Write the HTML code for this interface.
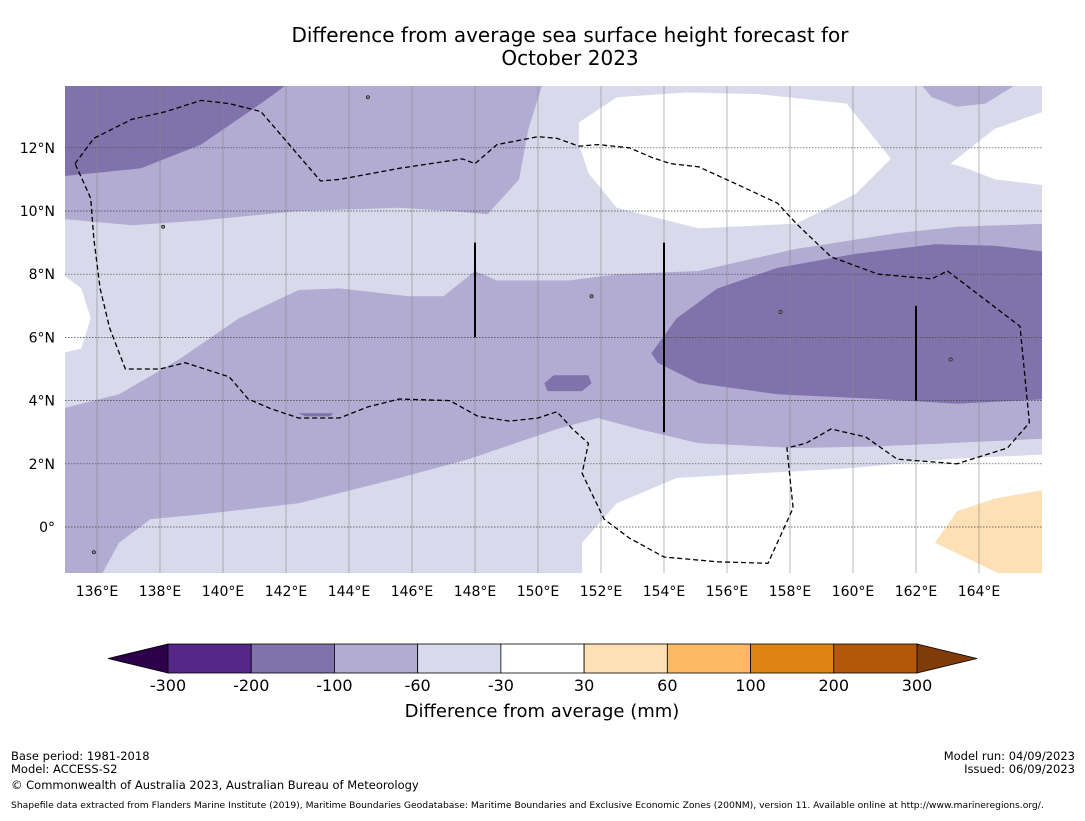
<!DOCTYPE html>
<html><head><meta charset="utf-8"><style>
body{margin:0;background:#fff;font-family:"Liberation Sans","DejaVu Sans",sans-serif}
svg text{font-family:"DejaVu Sans","Liberation Sans",sans-serif}
</style></head><body>
<svg id="c" width="1085" height="816" xmlns="http://www.w3.org/2000/svg">
<text x="570" y="42" text-anchor="middle" font-size="20">Difference from average sea surface height forecast for</text>
<text x="570" y="65" text-anchor="middle" font-size="20">October 2023</text>
<defs><clipPath id="mc"><rect x="65" y="86" width="977" height="487"/></clipPath></defs>
<g id="map" clip-path="url(#mc)"></g>
<g id="grid" clip-path="url(#mc)"></g>
<g id="axes"></g>
<g id="cbar"></g>
<text x="542" y="717" text-anchor="middle" font-size="18">Difference from average (mm)</text>
<g font-size="11.5">
<text x="11" y="760">Base period: 1981-2018</text>
<text x="11" y="773">Model: ACCESS-S2</text>
<text x="11" y="789">© Commonwealth of Australia 2023, Australian Bureau of Meteorology</text>
<text x="1075" y="760" text-anchor="end">Model run: 04/09/2023</text>
<text x="1075" y="773" text-anchor="end">Issued: 06/09/2023</text>
<text x="11" y="808" font-size="9.2">Shapefile data extracted from Flanders Marine Institute (2019), Maritime Boundaries Geodatabase: Maritime Boundaries and Exclusive Economic Zones (200NM), version 11. Available online at http://www.marineregions.org/.</text>
</g>
</svg>
<script>
const lonTicks=[136,138,140,142,144,146,148,150,152,154,156,158,160,162,164];
const latTicks=[0,2,4,6,8,10,12];
const levels=["-300","-200","-100","-60","-30","30","60","100","200","300"];
const levelColors=["#542788","#8073ac","#b2abd2","#d8daeb","#ffffff","#fee0b6","#fdb863","#e08214","#b35806"];
const endColors=["#2d004b","#7f3b08"];
const midTop=[[134.9,14.2],[150.2,14.2],[149.7,12.6],[149.4,11],[148.4,9.9],[147.2,10],[145.6,10.1],[142.4,10],[139.3,9.7],[137.1,9.55],[134.9,9.75]];
const midTopRight=[[162,14.2],[165.5,14.2],[164.2,13.4],[163.3,13.3],[162.5,13.6]];
const midBand=[[134.9,3.75],[136.7,4.2],[138.6,5.3],[140.5,6.6],[142.4,7.5],[143.7,7.55],[145.9,7.3],[147,7.3],[148,8.1],[148.7,7.8],[151,7.8],[152.5,8],[155.1,8.1],[158.2,8.8],[161.4,9.3],[163.3,9.5],[166.2,9.6],[166.2,2.8],[163,2.65],[160.8,2.55],[158.2,2.5],[155.1,2.65],[153.2,3.1],[151.9,3.45],[150.6,3.1],[147.8,2.15],[145.6,1.55],[142.4,0.75],[139.3,0.4],[137.7,0.25],[136.7,-0.5],[136.1,-1.6],[134.9,-1.6]];
const darkRight=[[153.6,5.5],[154.4,6.6],[155.7,7.55],[157.6,8.2],[160.1,8.65],[162.6,8.95],[164.5,8.9],[166.2,8.7],[166.2,4.05],[163.3,3.9],[160.8,4.05],[157.6,4.2],[155.1,4.55],[153.8,5.2]];
const darkSmall=[[150.2,4.55],[150.5,4.8],[151.6,4.8],[151.7,4.55],[151.4,4.3],[150.3,4.3]];
const darkTiny=[[142.4,3.6],[143.5,3.6],[143.4,3.5],[142.6,3.5]];
const darkTopLeft=[[134.9,14.2],[142.3,14.2],[141.2,13.4],[139.3,12.1],[137.4,11.35],[134.9,11.1]];
const whiteTop=[[151.3,12.8],[152.5,13.6],[154.7,13.75],[157,13.7],[159.8,13.4],[161.2,11.65],[160.1,10.55],[158.2,9.6],[155.1,9.45],[152.5,10.1],[151.6,11.2],[151.3,12.1]];
const whiteRight=[[163.1,11.5],[164.5,12.6],[166.2,13.2],[166.2,10.8],[164.5,11],[163.6,11.35]];
const whiteLeft=[[134.9,8],[135.5,7.55],[135.8,6.6],[135.5,5.65],[134.9,5.5]];
const whiteBottom=[[151.4,-0.5],[152.5,0.75],[154.4,1.55],[157,1.7],[159.8,1.85],[163,2.15],[166.2,2.3],[166.2,-1.6],[151.4,-1.6]];
const orange=[[162.6,-0.5],[163.3,0.5],[164.5,0.9],[166.2,1.2],[166.2,-1.6],[164.9,-1.6]];
const eez=[[135.3,11.5],[135.9,12.3],[137.1,12.9],[138.2,13.15],[139.3,13.5],[140.2,13.4],[141.2,13.15],[143.1,10.95],[143.7,11],[145.6,11.35],[147.6,11.65],[148,11.5],[148.7,12.1],[150,12.35],[150.6,12.3],[151.3,12.05],[151.9,12.1],[152.9,12],[153.6,11.7],[154.2,11.5],[155.1,11.4],[156.3,10.85],[157.6,10.25],[158.2,9.6],[159.3,8.55],[160.8,8],[162.5,7.85],[163,8.1],[165.3,6.35],[165.6,3.3],[164.9,2.5],[163.3,2],[161.4,2.15],[160.4,2.85],[159.3,3.1],[158.5,2.65],[157.9,2.5],[158.1,0.6],[157.3,-1.15],[155.7,-1.1],[154,-0.95],[152.9,-0.35],[152.1,0.25],[151.4,1.7],[151.6,2.65],[151.1,3.1],[150.6,3.65],[150,3.45],[149.1,3.35],[148.1,3.5],[147.2,4],[145.6,4.05],[144.6,3.8],[143.7,3.45],[142.4,3.45],[141.5,3.75],[140.8,4.05],[140.2,4.75],[138.8,5.2],[138,5],[136.9,5],[136.4,6.3],[136.1,7.55],[135.9,9.1],[135.8,10.4],[135.6,10.85],[135.3,11.5]];
const segments=[[148,9,148,6],[154,9,154,3],[162,7,162,4]];
const islands=[[144.6,13.6],[138.1,9.5],[157.7,6.8],[151.7,7.3],[163.1,5.3],[135.9,-0.8]];

const NS="http://www.w3.org/2000/svg";
const X=lon=>97+(lon-136)*31.5, Y=lat=>527-lat*31.6;
function mk(tag,parent,attrs){const e=document.createElementNS(NS,tag);for(const k in attrs)e.setAttribute(k,attrs[k]);parent.appendChild(e);return e;}
const pts=a=>a.map(p=>X(p[0]).toFixed(1)+","+Y(p[1]).toFixed(1)).join(" ");
const map=document.getElementById('map');
let bg=mk('rect',map,{x:65,y:86,width:977,height:487,fill:levelColors[3]});


const regs=[[midTop,2,'mid-negative-north'],[midTopRight,2,'mid-negative-northeast'],[midBand,2,'mid-negative-band'],[darkRight,1,'strong-negative-east'],[darkSmall,1,'strong-negative-patch'],[darkTiny,1,'strong-negative-small'],[darkTopLeft,1,'strong-negative-northwest'],[whiteTop,4,'neutral-north'],[whiteRight,4,'neutral-northeast'],[whiteLeft,4,'neutral-west'],[whiteBottom,4,'neutral-south'],[orange,5,'positive-southeast']];
for(const r of regs){const p=mk('polygon',map,{points:pts(r[0]),fill:levelColors[r[1]]});

}
for(const s of islands){const c=mk('circle',map,{cx:X(s[0]),cy:Y(s[1]),r:1.6,fill:'#888',stroke:'#000','stroke-width':0.6});

}
const grid=document.getElementById('grid');
for(const l of lonTicks){const g=mk('line',grid,{x1:X(l),x2:X(l),y1:86,y2:573,stroke:'#888','stroke-width':0.6});

}
for(const l of latTicks){const g=mk('line',grid,{x1:65,x2:1042,y1:Y(l),y2:Y(l),stroke:'#444','stroke-width':0.7,'stroke-dasharray':'1.5,1.5'});

}
let e=mk('polyline',grid,{points:pts(eez),fill:'none',stroke:'#000','stroke-width':1.3,'stroke-dasharray':'5,3'});


for(const s of segments){const l=mk('line',grid,{x1:X(s[0]),y1:Y(s[1]),x2:X(s[2]),y2:Y(s[3]),stroke:'#000','stroke-width':2});

}
const ax=document.getElementById('axes');
for(const l of lonTicks){const t=mk('text',ax,{x:X(l),y:596,'text-anchor':'middle','font-size':14});t.textContent=l+"°E";

}
for(const l of latTicks){const t=mk('text',ax,{x:55,y:Y(l)+5,'text-anchor':'end','font-size':14});t.textContent=l===0?"0°":l+"°N";

}
const cb=document.getElementById('cbar');
const x0=168,w=(917-168)/levelColors.length,y0=644,h=29;
let lt=mk('polygon',cb,{points:`108,${y0+h/2} ${x0},${y0} ${x0},${y0+h}`,fill:endColors[0],stroke:'#000','stroke-width':0.8});


let rt=mk('polygon',cb,{points:`977,${y0+h/2} 917,${y0} 917,${y0+h}`,fill:endColors[1],stroke:'#000','stroke-width':0.8});


levelColors.forEach((c,i)=>{const r=mk('rect',cb,{x:x0+i*w,y:y0,width:w,height:h,fill:c,stroke:'#000','stroke-width':0.8});

});
levels.forEach((l,i)=>{const t=mk('text',cb,{x:x0+i*w,y:691,'text-anchor':'middle','font-size':16});t.textContent=l;

});
</script>
</body></html>
